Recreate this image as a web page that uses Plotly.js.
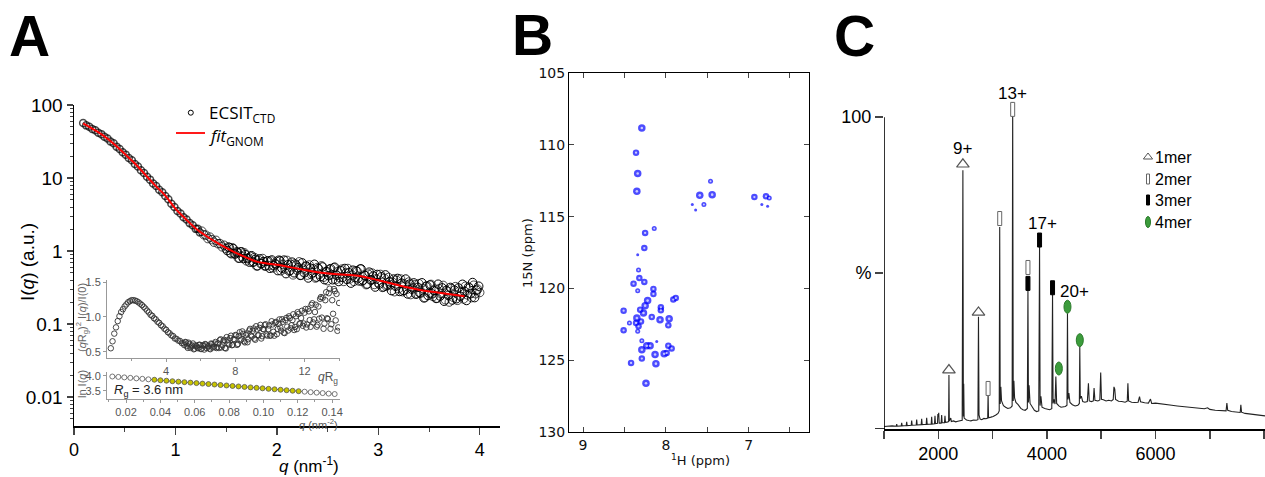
<!DOCTYPE html>
<html><head><meta charset="utf-8">
<script src="https://cdn.plot.ly/plotly-3.0.1.min.js"></script>
<style>html,body{margin:0;padding:0;background:#fff}#chart{width:1265px;height:477px}</style>
</head><body><div id="chart"></div>
<script>
// ---------------- Panel A: SAXS data ----------------
const saxsQ = [0.09,0.12,0.15,0.18,0.21,0.24,0.27,0.30,0.33,0.36,0.39,0.42,0.45,0.48,0.51,0.54,0.57,0.60,0.63,0.66,0.69,0.72,0.75,0.78,0.81,0.84,0.87,0.90,0.93,0.96,0.99,1.02,1.05,1.08,1.11,1.14,1.17,1.20,
1.22,1.24,1.26,1.28,1.30,1.32,1.34,1.36,1.38,1.40,1.42,1.44,1.46,1.48,1.50,1.52,1.54,1.56,1.58,1.60,1.62,1.64,1.66,1.68,1.70,1.72,1.74,1.76,1.78,1.80,1.82,1.84,1.86,1.88,1.90,1.92,1.94,1.96,1.98,2.00,
2.02,2.04,2.06,2.08,2.10,2.12,2.14,2.16,2.18,2.20,2.22,2.24,2.26,2.28,2.30,2.32,2.34,2.36,2.38,2.40,2.42,2.44,2.46,2.48,2.50,2.52,2.54,2.56,2.58,2.60,2.62,2.64,2.66,2.68,2.70,2.72,2.74,2.76,2.78,2.80,
2.82,2.84,2.86,2.88,2.90,2.92,2.94,2.96,2.98,3.00,3.02,3.04,3.06,3.08,3.10,3.12,3.14,3.16,3.18,3.20,3.22,3.24,3.26,3.28,3.30,3.32,3.34,3.36,3.38,3.40,3.42,3.44,3.46,3.48,3.50,3.52,3.54,3.56,3.58,3.60,
3.62,3.64,3.66,3.68,3.70,3.72,3.74,3.76,3.78,3.80,3.82,3.84,3.86,3.88,3.90,3.92,3.94,3.96,3.98,4.00];
const saxsI = [56.8,52.6,50.5,46.9,45.1,41.8,39.9,36.8,34.7,31.6,29.9,26.9,25.0,22.5,20.9,18.8,17.5,15.6,14.4,12.8,11.7,10.4,9.5,8.4,7.75,6.9,6.4,5.68,5.13,4.43,4.0,3.52,3.27,2.9,2.7,2.41,2.25,2.01,
2.01,1.80,1.87,1.67,1.65,1.48,1.55,1.43,1.32,1.40,1.26,1.26,1.14,1.20,1.08,1.14,0.948,1.11,0.916,0.970,0.799,0.971,0.833,0.945,0.732,0.808,0.843,0.700,0.816,0.623,0.743,0.672,0.789,0.622,0.723,0.630,0.730,0.586,0.672,0.724,
0.753,0.536,0.655,0.568,0.744,0.531,0.656,0.471,0.669,0.546,0.711,0.466,0.567,0.616,0.467,0.644,0.478,0.567,0.426,0.595,
0.478,0.627,0.437,0.519,0.392,0.561,0.474,0.588,0.405,0.522,0.434,0.565,0.383,0.499,0.576,0.415,0.469,0.383,0.538,0.425,
0.568,0.383,0.470,0.346,0.483,0.404,0.498,0.348,0.416,0.366,0.478,0.317,0.422,0.329,0.434,0.344,0.374,0.277,0.397,0.305,
0.414,0.277,0.351,0.299,0.376,0.253,0.314,0.345,0.260,0.357,0.266,0.307,0.230,0.332,0.265,0.349,0.238,0.301,0.226,0.304,
0.259,0.338,0.215,0.282,0.200,0.306,0.232,0.325,0.211,0.282,0.27,0.22,0.33,0.25,0.31,0.23,0.34,0.26,0.30,0.27];
// second interleaved set of frames (high q)
const saxsQ2 = [1.51,1.53,1.55,1.57,1.59,1.61,1.63,1.65,1.67,1.69,1.71,1.73,1.75,1.77,1.79,1.81,1.83,1.85,1.87,1.89,1.91,1.93,1.95,1.97,1.99,
2.01,2.03,2.05,2.07,2.09,2.11,2.13,2.15,2.17,2.19,2.21,2.23,2.25,2.27,2.29,2.31,2.33,2.35,2.37,2.39,2.41,2.43,2.45,2.47,2.49,2.51,2.53,2.55,2.57,2.59,2.61,2.63,2.65,2.67,2.69,2.71,2.73,2.75,2.77,2.79,
2.81,2.83,2.85,2.87,2.89,2.91,2.93,2.95,2.97,2.99,3.01,3.03,3.05,3.07,3.09,3.11,3.13,3.15,3.17,3.19,3.21,3.23,3.25,3.27,3.29,3.31,3.33,3.35,3.37,3.39,3.41,3.43,3.45,3.47,3.49,3.51,3.53,3.55,3.57,3.59,
3.61,3.63,3.65,3.67,3.69,3.71,3.73,3.75,3.77,3.79,3.81,3.83,3.85,3.87,3.89,3.91,3.93,3.95,3.97,3.99];
const saxsI2 = [1.015,1.118,0.919,1.078,0.910,0.966,0.797,0.976,0.789,0.890,0.786,0.704,0.862,0.707,0.769,0.627,0.781,0.675,0.716,0.626,0.734,0.580,0.754,0.629,0.662,
0.539,0.735,0.583,0.750,0.490,0.648,0.539,0.704,0.503,0.642,0.589,0.463,0.688,0.503,0.622,0.427,0.582,0.502,0.658,0.439,0.572,0.446,0.605,0.405,0.522,0.459,0.573,0.404,0.600,0.466,0.382,0.538,0.436,0.576,0.409,0.504,0.363,0.546,0.433,0.527,
0.390,0.569,0.398,0.462,0.353,0.513,0.401,0.453,0.321,0.477,0.352,0.443,0.322,0.471,0.341,0.380,0.287,0.413,0.330,0.421,0.279,0.362,0.288,0.413,0.258,0.352,0.301,0.366,0.256,0.318,0.267,0.367,0.228,0.328,0.246,0.342,0.259,0.289,0.224,0.351,
0.241,0.313,0.205,0.289,0.248,0.317,0.213,0.291,0.222,0.312,0.24,0.35,0.28,0.21,0.32,0.26,0.37,0.23,0.29,0.33];
const fitQ = [0.09,0.2,0.3,0.4,0.5,0.6,0.7,0.8,0.9,1.0,1.1,1.2,1.3,1.4,1.5,1.6,1.7,1.8,1.9,2.0,2.2,2.4,2.6,2.8,3.0,3.2,3.4,3.6,3.85];
const fitI = [56.2,45.7,37.2,28.8,21.4,15.8,11.2,7.94,5.75,3.80,2.75,2.04,1.62,1.32,1.10,0.933,0.813,0.716,0.676,0.646,0.575,0.513,0.479,0.457,0.398,0.339,0.295,0.269,0.240];

// Kratky inset
const kratkyX = [0.8,0.9,1.0,1.1,1.2,1.3,1.4,1.5,1.6,1.7,1.8,1.9,2.0,2.1,2.2,2.3,2.4,2.5,2.6,2.7,2.8,2.9,3.0,3.1,3.2,3.3,3.4,3.5,3.6,3.7,3.8,3.9,4.0,4.1,4.2,4.3,4.4,4.5,4.6,4.7,4.8,4.9,5.0,
5.1,5.2,5.3,5.4,5.5,5.6,5.7,5.8,5.9,6.0,6.1,6.2,6.3,6.4,6.5,6.6,6.7,6.8,6.9,7.0,7.1,7.2,7.3,7.4,7.5,7.6,7.7,7.8,7.9,8.0,8.1,8.2,8.3,8.4,8.5,8.6,8.7,8.8,8.9,9.0,
9.1,9.2,9.3,9.4,9.5,9.6,9.7,9.8,9.9,10.0,10.1,10.2,10.3,10.4,10.5,10.6,10.7,10.8,10.9,11.0,11.1,11.2,11.3,11.4,11.5,11.6,11.7,11.8,11.9,12.0,12.1,12.2,12.3,12.4,12.5,12.6,12.7,12.8,12.9,13.0,
13.1,13.2,13.3,13.4,13.5,13.6,13.7,13.8,13.9,14.0];
const kratkyY = [0.55,0.65,0.76,0.85,0.94,1.01,1.07,1.11,1.15,1.18,1.21,1.225,1.24,1.24,1.235,1.225,1.21,1.19,1.17,1.145,1.12,1.09,1.065,1.03,1.015,0.98,0.965,0.93,0.915,0.88,0.865,0.83,0.815,0.78,0.765,0.735,0.725,0.69,0.685,0.66,0.655,0.625,0.62,
0.64,0.58,0.63,0.555,0.59,0.535,0.592,0.56,0.60,0.54,0.59,0.531,0.602,0.573,0.545,0.618,0.562,0.617,0.553,0.62,0.666,0.562,0.648,0.554,0.71,0.618,0.696,0.594,0.682,0.74,
0.598,0.726,0.664,0.792,0.65,0.738,0.636,0.804,0.732,0.80,0.688,0.866,0.734,0.842,0.69,0.826,0.882,0.748,0.824,0.73,
0.938,0.786,0.914,0.752,0.90,0.848,0.966,0.774,0.952,0.86,1.008,0.836,0.954,0.812,1.01,1.068,0.896,0.984,0.872,1.06,
0.848,1.116,0.954,1.172,0.92,1.07,0.86,1.15,1.26,0.99,0.83,1.24,0.98,1.34,0.83,1.24,1.40,0.95,0.80,1.20];
const kratkyX2 = [5.05,5.15,5.25,5.35,5.45,5.55,5.65,5.75,5.85,5.95,6.05,6.15,6.25,6.35,6.45,6.55,6.65,6.75,6.85,6.95,7.05,7.15,7.25,7.35,7.45,7.55,7.65,7.75,7.85,7.95,
8.05,8.15,8.25,8.35,8.45,8.55,8.65,8.75,8.85,8.95,9.05,9.15,9.25,9.35,9.45,9.55,9.65,9.75,9.85,9.95,10.05,10.15,10.25,10.35,10.45,10.55,10.65,10.75,10.85,10.95,
11.05,11.15,11.25,11.35,11.45,11.55,11.65,11.75,11.85,11.95,12.05,12.15,12.25,12.35,12.45,12.55,12.65,12.75,12.85,12.95,13.05,13.15,13.25,13.35,13.45,13.55,13.65,13.75,13.85,13.95];
const kratkyY2 = [0.595,0.635,0.555,0.608,0.573,0.618,0.544,0.581,0.55,0.60,0.54,0.59,0.611,0.552,0.584,0.536,0.61,0.574,0.64,0.567,
0.553,0.679,0.595,0.671,0.547,0.664,0.602,0.73,0.598,0.676,0.734,0.612,0.78,0.678,0.756,0.634,0.762,0.68,0.828,0.716,
0.834,0.672,0.82,0.738,0.886,0.723,0.819,0.895,0.731,0.877,0.734,0.892,0.73,0.928,0.826,0.964,0.802,0.93,0.768,0.986,
0.804,0.982,0.88,1.038,0.856,0.824,1.042,0.91,1.088,0.906,1.114,0.892,1.08,0.858,1.196,0.965,1.175,0.885,0.975,1.285,
1.275,0.905,1.355,0.97,1.405,0.895,1.045,1.37,1.33,0.85];

// Guinier inset
const guinierQ2 = [0.0120,0.0155,0.0190,0.0225,0.0260,0.0295,0.0330,0.0365,0.0400,0.0435,0.0470,0.0505,0.0540,0.0575,0.0610,0.0645,0.0680,0.0715,0.0750,0.0785,0.0820,0.0855,0.0890,0.0925,0.0960,0.0995,0.1030,0.1065,0.1100,0.1135,0.1170,0.1205,0.1240,0.1275,0.1310,0.1345,0.1380,0.1415];
const guinierLnI = [3.980,3.966,3.950,3.935,3.918,3.903,3.886,3.872,3.854,3.840,3.823,3.808,3.791,3.776,3.760,3.744,3.728,3.713,3.696,3.681,3.664,3.649,3.633,3.617,3.601,3.586,3.569,3.554,3.538,3.522,3.506,3.490,3.474,3.458,3.442,3.427,3.410,3.395];
const guinierFitRange = [0.036, 0.121];

// ---------------- Panel B: HSQC peaks ----------------
const peakH = [8.29,8.36,8.34,8.35,7.46,7.59,7.44,7.54,7.64,7.68,6.93,6.79,6.75,6.77,6.84,8.14,8.25,8.26,8.34,8.33,8.32,8.39,8.26,8.34,8.15,8.15,8.22,7.91,7.88,8.51,8.06,8.06,8.25,8.27,8.31,8.35,8.30,8.33,8.36,8.17,8.07,7.96,7.97,8.44,8.34,8.51,8.29,8.11,8.29,8.23,8.19,7.97,7.93,8.13,8.02,7.99,8.29,8.42,8.12,8.24];
const peakN = [108.83,110.55,112.0,113.24,112.54,113.52,113.47,114.15,114.54,114.15,113.64,113.59,113.7,114.28,114.15,115.82,116.14,117.19,117.65,118.72,119.28,119.67,119.55,120.16,120.04,120.39,120.85,120.78,120.67,121.55,121.32,121.53,121.2,121.71,121.48,122.06,122.3,122.64,122.41,121.99,122.18,122.11,122.57,122.41,122.99,122.92,123.64,123.69,124.27,123.99,123.99,123.99,124.18,124.6,124.55,124.5,124.89,125.19,125.24,126.61];
const peakInt = [3,2,3,3,1,3,3,1,0.5,0.5,2,2,1,0.5,0.5,1,2,2,0.5,1,2,2,2,1,2,2,3,2,2,2,2,2,3,3,2,3,2,2,2,2,3,3,2,1,1,2,1,0.5,3,3,3,2,2,3,3,2,2,2,3,3];

// ---------------- Panel C: native MS ----------------
const specMz = [1000,1050,1100,1150,1225,1234,1243,1317,1326,1335,1409,1418,1427,1501,1510,1519,1593,1602,1611,1685,1694,1703,1777,1786,1795,1869,1878,1887,1930,1939,1948,1985,1992,2000,2008,2016,2053,2062,2071,2114,2123,2132,2160,2180,2190,2196,2203,2230,2240,2280,2320,2360,2400,2440,2453,2462,2468,2476,2520,2560,2600,2650,2700,2730,2740,2750,2770,2800,2840,2880,2910,2917,2925,2970,3010,3060,3100,3122,3131,3140,3152,3165,3200,3240,3280,3330,3360,3370,3380,3392,3405,3430,3470,3520,3560,3600,3640,3651,3660,3672,3690,3730,3770,3810,3850,3865,3875,3890,3910,3960,4000,4050,4090,4104,4114,4130,4150,4165,4180,4220,4260,4300,4340,4370,4379,4389,4405,4425,4470,4520,4570,4598,4606,4615,4635,4660,4700,4745,4765,4780,4820,4855,4869,4885,4940,4975,4991,5005,5040,5090,5140,5190,5222,5235,5250,5265,5320,5380,5440,5480,5492,5505,5560,5620,5680,5706,5725,5800,5870,5908,5930,6000,6100,6200,6300,6400,6500,6600,6700,6800,6900,6960,7000,7100,7200,7300,7315,7330,7400,7500,7560,7572,7585,7650,7750,7850,7950,8017];
const specInt = [0.8,0.9,0.8,1.0,0.9,1.6,0.9,1.0,2.0,1.0,1.1,2.3,1.1,1.2,2.7,1.2,1.3,3.0,1.3,1.4,3.3,1.4,1.5,3.6,1.5,1.6,3.9,1.6,1.7,4.2,1.7,1.8,4.8,4.0,5.2,1.9,1.9,4.5,2.0,2.0,4.2,2.1,2.2,2.3,2.4,17.3,2.6,3.5,2.4,2.6,2.3,2.5,2.6,2.8,83.0,4.0,14.5,3.5,2.9,2.7,2.6,2.9,2.8,3.0,36.0,4.5,3.2,3.0,3.4,3.3,3.5,11.5,3.6,3.8,4.0,4.5,5.0,5.8,64.8,8.0,13.5,9.0,7.5,7.0,6.6,6.8,7.4,104.9,9.0,15.5,10.0,8.5,7.8,6.6,6.2,6.0,6.6,44.6,8.5,14.0,8.2,7.0,6.0,5.6,5.8,58.4,7.5,10.5,7.0,6.6,6.4,6.2,6.5,43.5,8.2,9.5,8.0,16.8,8.2,7.4,7.0,7.0,7.2,7.6,37.1,9.5,11.5,8.5,7.8,7.4,7.6,8.2,26.4,9.8,10.5,8.8,8.6,8.8,14.7,9.0,8.8,9.0,13.1,9.2,9.0,9.3,18.1,9.5,9.4,9.0,9.2,9.0,9.5,13.5,12.8,9.5,8.9,8.8,8.6,8.9,14.7,9.0,8.6,8.5,8.6,10.4,8.7,8.4,8.3,9.6,8.2,8.3,8.0,7.8,7.6,7.4,7.2,7.0,6.8,6.6,6.5,6.8,6.3,6.0,5.9,5.8,8.3,6.0,5.6,5.3,5.3,7.8,5.4,5.0,4.8,4.5,4.3,4.2];
const monomerMz = [2196,2453,2740], monomerY = [18.9,84.9,37.4];
const dimerMz = [2917,3131,3370,3651], dimerY = [13.0,67.5,102.5,51.8];
const trimerMz = [3651,3865,4104], trimerY = [46.7,60.6,45.3];
const tetramerMz = [4220,4379,4606], tetramerY = [19.4,39.2,28.5];
const chargeText = ['9+','13+','17+','20+'], chargeMz = [2453,3370,3928,4500], chargeY = [90,107.7,66,44.2];
const oligoLabels = ['1mer','2mer','3mer','4mer'];

// ---------------- Layout helpers ----------------
const W = 1265, H = 477;
const PX = p => p / W, PY = p => 1 - p / H;
const dx = (a, b) => [PX(a), PX(b)];
const dy = (top, bot) => [PY(bot), PY(top)];
const cXr = [1000, 8017], cYr = [0, 110], cDomX = [884, 1265], cDomY = [86, 429];
const mzFromPx = px => cXr[0] + (px - cDomX[0]) / (cDomX[1] - cDomX[0]) * (cXr[1] - cXr[0]);
const pctFromPy = py => (cDomY[1] - py) / (cDomY[1] - cDomY[0]) * (cYr[1] - cYr[0]);
const mzPerPx = (cXr[1] - cXr[0]) / (cDomX[1] - cDomX[0]);
const pctPerPx = (cYr[1] - cYr[0]) / (cDomY[1] - cDomY[0]);

const traces = [];
// Panel A main
traces.push({x: saxsQ, y: saxsI, type: 'scatter', mode: 'markers', xaxis: 'x', yaxis: 'y',
  marker: {symbol: 'circle-open', color: '#000', size: saxsQ.map(q => q < 1.25 ? 7 : 8.5), line: {width: saxsQ.map(q => q < 1.25 ? 1.5 : 1)}}, hoverinfo: 'skip'});
traces.push({x: saxsQ2, y: saxsI2, type: 'scatter', mode: 'markers', xaxis: 'x', yaxis: 'y',
  marker: {symbol: 'circle-open', color: '#000', size: 8.5, line: {width: 1}}, hoverinfo: 'skip'});
traces.push({x: fitQ, y: fitI, type: 'scatter', mode: 'lines', xaxis: 'x', yaxis: 'y',
  line: {color: '#ff0000', width: 2, shape: 'spline'}, hoverinfo: 'skip'});
// Kratky
traces.push({x: kratkyX, y: kratkyY, type: 'scatter', mode: 'markers', xaxis: 'x2', yaxis: 'y2',
  marker: {symbol: 'circle-open', color: '#333', size: 5.5, line: {width: 0.9}}, hoverinfo: 'skip'});
traces.push({x: kratkyX2, y: kratkyY2, type: 'scatter', mode: 'markers', xaxis: 'x2', yaxis: 'y2',
  marker: {symbol: 'circle-open', color: '#333', size: 5.5, line: {width: 0.9}}, hoverinfo: 'skip'});
// Guinier
traces.push({x: guinierQ2, y: guinierLnI, type: 'scatter', mode: 'lines+markers', xaxis: 'x3', yaxis: 'y3',
  line: {color: '#777', width: 1},
  marker: {symbol: 'circle', size: 5,
    color: guinierQ2.map(v => (v >= guinierFitRange[0] && v <= guinierFitRange[1]) ? '#c8c400' : '#ffffff'),
    line: {color: '#555', width: 0.8}}, hoverinfo: 'skip'});
// Panel B: contour-like blobs (filled blue with a small white core)
traces.push({x: peakH, y: peakN, type: 'scatter', mode: 'markers', xaxis: 'x4', yaxis: 'y4',
  marker: {symbol: 'circle', color: '#0000ff',
    size: peakInt.map(v => v < 1 ? 3 : (v < 2 ? 5 : (v < 3 ? 6.5 : 7.5))), line: {width: 0}}, hoverinfo: 'skip'});
traces.push({x: peakH.filter((h, i) => peakInt[i] >= 1), y: peakN.filter((n, i) => peakInt[i] >= 1), type: 'scatter', mode: 'markers', xaxis: 'x4', yaxis: 'y4',
  marker: {symbol: 'circle', color: '#ffffff',
    size: peakInt.filter(v => v >= 1).map(v => v < 2 ? 2 : (v < 3 ? 2.3 : 2.6)), line: {width: 0}}, hoverinfo: 'skip'});
// Panel C spectrum
traces.push({x: specMz, y: specInt, type: 'scatter', mode: 'lines', xaxis: 'x5', yaxis: 'y5',
  line: {color: '#222', width: 1.1}, hoverinfo: 'skip'});
traces.push({x: monomerMz, y: monomerY, type: 'scatter', mode: 'markers', xaxis: 'x5', yaxis: 'y5',
  marker: {symbol: 'triangle-up', color: '#fff', size: 11, line: {color: '#555', width: 1.2}}, hoverinfo: 'skip'});
traces.push({x: [mzFromPx(1148)], y: [pctFromPy(157)], type: 'scatter', mode: 'markers', xaxis: 'x5', yaxis: 'y5',
  marker: {symbol: 'triangle-up', color: '#fff', size: 8, line: {color: '#555', width: 1}}, hoverinfo: 'skip'});

const shapes = [];
// A legend
shapes.push({type: 'line', xref: 'paper', yref: 'paper', x0: PX(176), x1: PX(205), y0: PY(133), y1: PY(133), line: {color: '#ff0000', width: 1.8}});
shapes.push({type: 'circle', xref: 'paper', yref: 'paper', x0: PX(188.3), x1: PX(193.3), y0: PY(115.2), y1: PY(110.2), line: {color: '#000', width: 1}});
// C y axis line and x axis extension
shapes.push({type: 'line', xref: 'x5', yref: 'y5', x0: 1000, x1: 1000, y0: 0, y1: 100, line: {color: '#000', width: 1.6}});
shapes.push({type: 'line', xref: 'paper', yref: 'y5', x0: PX(875), x1: PX(885), y0: 0, y1: 0, line: {color: '#000', width: 1.6}});
// C oligomer markers
const rw = 4 * mzPerPx / 2, rh = 14 * pctPerPx / 2;
dimerMz.forEach((m, i) => shapes.push({type: 'rect', xref: 'x5', yref: 'y5', x0: m - rw, x1: m + rw, y0: dimerY[i] - rh, y1: dimerY[i] + rh, fillcolor: '#fff', line: {color: '#666', width: 1}}));
trimerMz.forEach((m, i) => shapes.push({type: 'rect', xref: 'x5', yref: 'y5', x0: m - rw, x1: m + rw, y0: trimerY[i] - rh, y1: trimerY[i] + rh, fillcolor: '#000', line: {color: '#000', width: 1}}));
const ew = 7 * mzPerPx / 2, eh = 13 * pctPerPx / 2;
tetramerMz.forEach((m, i) => shapes.push({type: 'circle', xref: 'x5', yref: 'y5', x0: m - ew, x1: m + ew, y0: tetramerY[i] - eh, y1: tetramerY[i] + eh, fillcolor: '#3c9c3c', line: {color: '#2a7a2a', width: 1}}));
// C legend symbols
shapes.push({type: 'rect', xref: 'paper', yref: 'paper', x0: PX(1146.5), x1: PX(1149.5), y0: PY(184), y1: PY(174), fillcolor: '#fff', line: {color: '#666', width: 1}});
shapes.push({type: 'rect', xref: 'paper', yref: 'paper', x0: PX(1146.5), x1: PX(1149.5), y0: PY(205), y1: PY(195), fillcolor: '#000', line: {color: '#000', width: 1}});
shapes.push({type: 'circle', xref: 'paper', yref: 'paper', x0: PX(1145.5), x1: PX(1150.5), y0: PY(227.5), y1: PY(216.5), fillcolor: '#3c9c3c', line: {color: '#2a7a2a', width: 1}});

const ann = [];
const A = (o) => ann.push(Object.assign({showarrow: false, xref: 'paper', yref: 'paper', xanchor: 'center', yanchor: 'middle'}, o));
const bigF = {family: 'Liberation Sans', size: 57, color: '#000'};
A({text: '<b>A</b>', x: PX(30), y: PY(36), font: bigF});
A({text: '<b>B</b>', x: PX(532), y: PY(35), font: bigF});
A({text: '<b>C</b>', x: PX(854), y: PY(36), font: bigF});
A({text: 'I(<i>q</i>) (a.u.)', x: PX(27), y: PY(262), textangle: -90, font: {family: 'Liberation Sans', size: 19, color: '#000'}});
A({text: '<i>q</i> (nm<sup>-1</sup>)', x: PX(309), y: PY(465), font: {family: 'Liberation Sans', size: 17, color: '#000'}});
A({text: 'ECSIT<sub>CTD</sub>', x: PX(207), y: PY(114), xanchor: 'left', font: {family: 'Open Sans', size: 17, color: '#000'}});
A({text: '<i>fit</i><sub>GNOM</sub>', x: PX(207), y: PY(136), xanchor: 'left', font: {family: 'Open Sans', size: 17, color: '#000'}});
const inF = {family: 'Liberation Sans', size: 11, color: '#666'};
A({text: '(<i>q</i>R<sub>g</sub>)<sup>2</sup> I(<i>q</i>)/I(0)', x: PX(82), y: PY(318), textangle: -90, font: inF});
A({text: 'ln I(<i>q</i>)', x: PX(82), y: PY(384), textangle: -90, font: inF});
A({text: '<i>q</i>R<sub>g</sub>', x: PX(340), y: PY(378), xanchor: 'right', font: {family: 'Liberation Sans', size: 12, color: '#555'}});
A({text: '<i>q</i> (nm<sup>-2</sup>)', x: PX(340), y: PY(424), xanchor: 'right', font: {family: 'Liberation Sans', size: 11, color: '#555'}});
A({text: '<i>R</i><sub>g</sub> = 3.6 nm', x: PX(112), y: PY(390), xanchor: 'left', font: {family: 'Liberation Sans', size: 13, color: '#222'}});
A({text: '15N (ppm)', x: PX(527), y: PY(253), textangle: -90, font: {family: 'DejaVu Sans', size: 13, color: '#111'}});
A({text: '<sup>1</sup>H (ppm)', x: PX(700), y: PY(460), font: {family: 'DejaVu Sans', size: 13, color: '#111'}});
chargeText.forEach((t, i) => ann.push({text: t, x: chargeMz[i], y: chargeY[i], xref: 'x5', yref: 'y5', showarrow: false, xanchor: 'center', yanchor: 'middle', font: {family: 'Liberation Sans', size: 17, color: '#000'}}));
[157, 179, 200, 222].forEach((py, i) => A({text: oligoLabels[i], x: PX(1153), y: PY(py), xanchor: 'left', font: {family: 'Liberation Sans', size: 16, color: '#000'}}));

const baseAx = {showgrid: false, zeroline: false, showline: true, linecolor: '#000', fixedrange: true};
const layout = {
  width: W, height: H, margin: {l: 0, r: 0, t: 0, b: 0}, showlegend: false,
  paper_bgcolor: '#fff', plot_bgcolor: 'rgba(0,0,0,0)',
  font: {family: 'Liberation Sans', color: '#000'},
  xaxis: Object.assign({}, baseAx, {domain: dx(74, 500), range: [0, 4.2], anchor: 'y', linewidth: 1.5,
    ticks: 'outside', ticklen: 7, tickwidth: 1.3, tickmode: 'linear', tick0: 0, dtick: 1,
    minor: {ticks: 'outside', ticklen: 4, tickwidth: 1, dtick: 0.5, tick0: 0, showgrid: false},
    tickfont: {size: 18, family: 'Liberation Sans'}}),
  yaxis: Object.assign({}, baseAx, {domain: dy(105, 426), type: 'log', range: [-2.397, 2], anchor: 'x', linewidth: 1.5,
    ticks: 'outside', ticklen: 6, tickwidth: 1.3, tickmode: 'linear', tick0: 0, dtick: 1,
    minor: {ticks: 'outside', ticklen: 3, tickwidth: 1, dtick: 'D1', showgrid: false},
    tickfont: {size: 19, family: 'Liberation Sans'}}),
  xaxis2: Object.assign({}, baseAx, {domain: dx(107, 340), range: [0.58, 14.05], anchor: 'y2', linecolor: '#999', linewidth: 1,
    ticks: 'outside', ticklen: 3, tickcolor: '#999', tickmode: 'linear', tick0: 0, dtick: 4,
    minor: {ticks: 'outside', ticklen: 2, dtick: 2, tick0: 0, tickcolor: '#999', showgrid: false}, tickfont: {size: 11, color: '#555'}}),
  yaxis2: Object.assign({}, baseAx, {domain: dy(280, 358), range: [0.41, 1.53], anchor: 'x2', linecolor: '#999', linewidth: 1,
    ticks: 'outside', ticklen: 3, tickcolor: '#999', tickmode: 'linear', tick0: 0, dtick: 0.5, tickformat: '.1f', tickfont: {size: 11, color: '#555'}}),
  xaxis3: Object.assign({}, baseAx, {domain: dx(107, 340), range: [0.0089, 0.1446], anchor: 'y3', linecolor: '#999', linewidth: 1,
    ticks: 'outside', ticklen: 3, tickcolor: '#999', tickmode: 'linear', tick0: 0, dtick: 0.02, tickformat: '.2f',
    minor: {ticks: 'outside', ticklen: 2, dtick: 0.01, tick0: 0, tickcolor: '#999', showgrid: false}, tickfont: {size: 11, color: '#555'}}),
  yaxis3: Object.assign({}, baseAx, {domain: dy(372, 399), range: [3.23, 4.13], anchor: 'x3', linecolor: '#999', linewidth: 1,
    ticks: 'outside', ticklen: 3, tickcolor: '#999', tickmode: 'array', tickvals: [3.5, 4.0], ticktext: ['3.5', '4.0'], tickfont: {size: 11, color: '#555'}}),
  xaxis4: Object.assign({}, baseAx, {domain: dx(569, 809), range: [9.17, 6.27], anchor: 'y4', linewidth: 1, mirror: 'ticks',
    ticks: 'inside', ticklen: 5, tickmode: 'array', tickvals: [9, 8, 7],
    minor: {ticks: 'inside', ticklen: 5, dtick: 0.5, tick0: 0, showgrid: false},
    tickfont: {size: 14, family: 'DejaVu Sans', color: '#111'}}),
  yaxis4: Object.assign({}, baseAx, {domain: dy(73, 432), range: [130, 105], anchor: 'x4', linewidth: 1, mirror: 'ticks',
    ticks: 'inside', ticklen: 5, tickmode: 'array', tickvals: [105, 110, 115, 120, 125, 130],
    tickfont: {size: 14, family: 'DejaVu Sans', color: '#111'}}),
  xaxis5: Object.assign({}, baseAx, {domain: dx(cDomX[0], cDomX[1]), range: cXr, anchor: 'y5', linewidth: 1.6,
    ticks: 'outside', ticklen: 8, tickwidth: 1.5, tickmode: 'linear', tick0: 0, dtick: 2000,
    minor: {ticks: 'outside', ticklen: 8, tickwidth: 1.5, dtick: 1000, tick0: 0, showgrid: false},
    tickfont: {size: 18, family: 'Liberation Sans'}}),
  yaxis5: Object.assign({}, baseAx, {domain: dy(cDomY[0], cDomY[1]), range: cYr, anchor: 'x5', showline: false,
    ticks: 'outside', ticklen: 8, tickwidth: 1.5, tickmode: 'array', tickvals: [50, 100], ticktext: ['%', '100'],
    tickfont: {size: 18, family: 'Liberation Sans'}}),
  shapes: shapes, annotations: ann
};
Plotly.newPlot('chart', traces, layout, {staticPlot: true, displayModeBar: false});
</script></body></html>
